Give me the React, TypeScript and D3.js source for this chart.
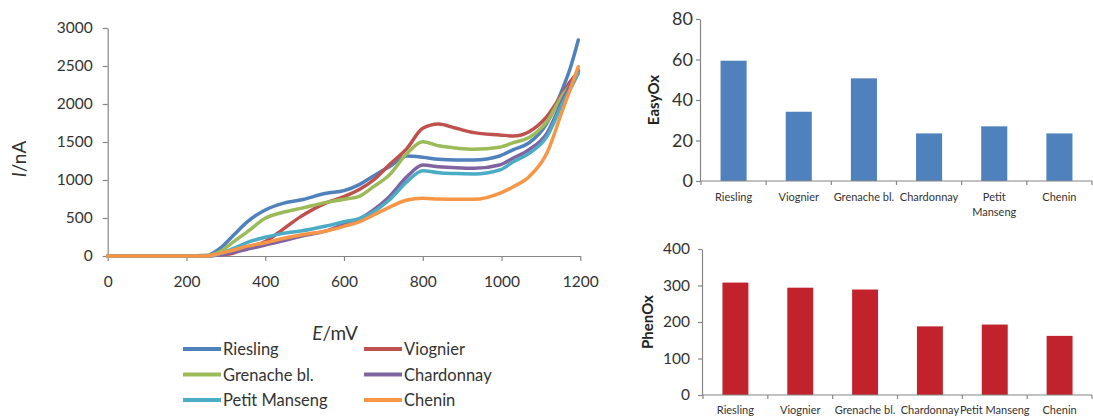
import * as d3 from "d3";
import React, { useEffect, useRef } from "react";

// potential axis (mV) and current (nA) for each wine
const potentials = [0, 100, 200, 250, 285, 320, 355, 400, 445, 490, 555, 600, 640, 675, 715, 760, 800, 840, 885, 930, 995, 1030, 1070, 1115, 1155, 1175, 1195];
const riesling = [0, 0, 0, 5, 100, 276, 452, 605, 693, 737, 825, 860, 943, 1053, 1175, 1316, 1300, 1272, 1263, 1263, 1316, 1400, 1490, 1746, 2200, 2480, 2842];
const viognier = [0, 0, 0, 0, 15, 40, 115, 189, 351, 518, 700, 781, 877, 1000, 1200, 1417, 1680, 1737, 1680, 1623, 1592, 1579, 1636, 1833, 2140, 2300, 2420];
const grenache = [0, 0, 0, 5, 60, 189, 320, 496, 575, 627, 706, 746, 789, 912, 1066, 1351, 1504, 1450, 1420, 1404, 1430, 1491, 1560, 1767, 2118, 2250, 2430];
const chardonnay = [0, 0, 0, 0, 15, 50, 90, 145, 200, 260, 330, 420, 490, 605, 781, 1044, 1197, 1175, 1160, 1153, 1197, 1290, 1400, 1614, 2053, 2250, 2440];
const petitManseng = [0, 0, 0, 0, 30, 101, 180, 246, 298, 329, 395, 450, 496, 583, 737, 978, 1123, 1096, 1085, 1079, 1131, 1241, 1350, 1570, 2009, 2200, 2404];
const chenin = [0, 0, 0, 0, 35, 79, 130, 175, 230, 276, 330, 390, 452, 539, 640, 737, 759, 750, 746, 746, 825, 912, 1044, 1351, 1921, 2200, 2491];

const wines = ["Riesling", "Viognier", "Grenache bl.", "Chardonnay", "Petit Manseng", "Chenin"];
const wineColors = ["#4F81BD", "#C0504D", "#9BBB59", "#8064A2", "#4BACC6", "#F79646"];

const easyOx = [59.4, 34.2, 50.7, 23.5, 27.0, 23.5];
const phenOx = [308, 294, 289, 188, 193, 162];

const currentTicks = [0, 500, 1000, 1500, 2000, 2500, 3000];
const potentialTicks = [0, 200, 400, 600, 800, 1000, 1200];
const easyTicks = [0, 20, 40, 60, 80];
const phenTicks = [0, 100, 200, 300, 400];

const FONT = "Lato, 'Open Sans', sans-serif";
const AXIS = "#868686";
const TEXT = "#333333";
const plain = d3.format("d");

function styleAxis(g, fontSize) {
  g.attr("font-family", FONT).attr("font-size", fontSize);
  g.select(".domain").attr("stroke", AXIS).attr("stroke-width", 1.2);
  g.selectAll(".tick line").attr("stroke", AXIS).attr("stroke-width", 1.2);
  g.selectAll(".tick text").attr("fill", TEXT);
}

function drawVoltammogram(g) {
  const x = d3.scaleLinear().domain([0, 1200]).range([107.7, 580.3]);
  const y = d3.scaleLinear().domain([0, 3000]).range([256, 28]);

  const xAxis = g
    .append("g")
    .attr("transform", `translate(0,${y(0)})`)
    .call(d3.axisBottom(x).tickValues(potentialTicks).tickFormat(plain).tickSize(5).tickSizeOuter(0).tickPadding(15));
  styleAxis(xAxis, 15.5);

  const yAxis = g
    .append("g")
    .attr("transform", `translate(${x(0)},0)`)
    .call(d3.axisLeft(y).tickValues(currentTicks).tickFormat(plain).tickSize(5).tickSizeOuter(0).tickPadding(10));
  styleAxis(yAxis, 15.5);

  const series = [riesling, viognier, grenache, chardonnay, petitManseng, chenin];
  const line = d3
    .line()
    .x((d, i) => x(potentials[i]))
    .y((d) => y(d))
    .curve(d3.curveMonotoneX);

  series.forEach((values, i) => {
    g.append("path")
      .attr("d", line(values))
      .attr("fill", "none")
      .attr("stroke", wineColors[i])
      .attr("stroke-width", 3.5)
      .attr("stroke-linejoin", "round")
      .attr("stroke-linecap", "round");
  });

  // axis titles
  const yTitle = g
    .append("text")
    .attr("transform", "translate(26,159) rotate(-90)")
    .attr("text-anchor", "middle")
    .attr("font-family", FONT)
    .attr("font-size", 19)
    .attr("fill", TEXT);
  yTitle.append("tspan").attr("font-style", "italic").text("I");
  yTitle.append("tspan").text("/nA");

  const xTitle = g
    .append("text")
    .attr("x", 335)
    .attr("y", 340)
    .attr("text-anchor", "middle")
    .attr("font-family", FONT)
    .attr("font-size", 19)
    .attr("fill", TEXT);
  xTitle.append("tspan").attr("font-style", "italic").text("E");
  xTitle.append("tspan").text("/mV");

  // legend, two columns
  const legend = g.append("g");
  wines.forEach((name, i) => {
    const lx = i % 2 === 0 ? 183 : 364;
    const ly = 349 + Math.floor(i / 2) * 25.5;
    legend
      .append("line")
      .attr("x1", lx)
      .attr("x2", lx + 38)
      .attr("y1", ly)
      .attr("y2", ly)
      .attr("stroke", wineColors[i])
      .attr("stroke-width", 4);
    legend
      .append("text")
      .attr("x", lx + 40)
      .attr("y", ly + 6)
      .attr("font-family", FONT)
      .attr("font-size", 16.5)
      .attr("fill", TEXT)
      .text(name);
  });
}

function drawBars(g, opts) {
  const { values, ticks, max, top, bottom, left, right, color, title, titleX, tickFont, tickGap, labelGap, wrap } = opts;
  const x = d3.scaleBand().domain(wines).range([left + 1, right]).paddingInner(0.6).paddingOuter(0.3);
  const y = d3.scaleLinear().domain([0, max]).range([bottom, top]);

  g.selectAll(".bar")
    .data(values)
    .join("rect")
    .attr("class", "bar")
    .attr("x", (d, i) => x(wines[i]))
    .attr("width", x.bandwidth())
    .attr("y", (d) => y(d))
    .attr("height", (d) => y(0) - y(d))
    .attr("fill", color);

  const yAxis = g
    .append("g")
    .attr("transform", `translate(${left},0)`)
    .call(d3.axisLeft(y).tickValues(ticks).tickFormat(plain).tickSize(4).tickSizeOuter(0).tickPadding(tickGap));
  styleAxis(yAxis, tickFont);

  // category axis with ticks between the bars
  const step = x.step();
  const start = x.range()[0];
  g.append("line")
    .attr("x1", left)
    .attr("x2", right)
    .attr("y1", y(0))
    .attr("y2", y(0))
    .attr("stroke", AXIS)
    .attr("stroke-width", 1.2);
  d3.range(wines.length + 1).forEach((i) => {
    const tx = Math.min(start + i * step, right);
    g.append("line")
      .attr("x1", tx)
      .attr("x2", tx)
      .attr("y1", y(0))
      .attr("y2", y(0) + 4)
      .attr("stroke", AXIS)
      .attr("stroke-width", 1.2);
  });

  wines.forEach((name, i) => {
    const cx = x(name) + x.bandwidth() / 2;
    const label = g
      .append("text")
      .attr("x", cx)
      .attr("y", y(0) + labelGap)
      .attr("text-anchor", "middle")
      .attr("font-family", FONT)
      .attr("font-size", 11)
      .attr("fill", TEXT)
      .text(name);
    const len = (label.node() as SVGTextElement).getComputedTextLength();
    if (wrap && len > step + 2) {
      label.text(null);
      name.split(" ").forEach((word, k) => {
        label.append("tspan").attr("x", cx).attr("dy", k === 0 ? 0 : 15).text(word);
      });
    }
  });

  g.append("text")
    .attr("transform", `translate(${titleX},${(top + bottom) / 2}) rotate(-90)`)
    .attr("text-anchor", "middle")
    .attr("font-family", FONT)
    .attr("font-size", 15)
    .attr("font-weight", "bold")
    .attr("fill", "#222")
    .text(title);
}

function App() {
  const svgRef = useRef(null);

  useEffect(() => {
    const svg = d3.select(svgRef.current);
    svg.selectAll("*").remove();
    drawVoltammogram(svg.append("g"));
    drawBars(svg.append("g"), {
      values: easyOx,
      ticks: easyTicks,
      max: 80,
      top: 19,
      bottom: 181,
      left: 700,
      right: 1092,
      color: "#4F81BD",
      title: "EasyOx",
      titleX: 659,
      tickFont: 18,
      tickGap: 3,
      labelGap: 20,
      wrap: true,
    });
    drawBars(svg.append("g"), {
      values: phenOx,
      ticks: phenTicks,
      max: 400,
      top: 249,
      bottom: 395,
      left: 702,
      right: 1092,
      color: "#C1222B",
      title: "PhenOx",
      titleX: 653,
      tickFont: 15.5,
      tickGap: 8,
      labelGap: 19,
      wrap: false,
    });
  }, []);

  return (
    <>
      <style>{"body{margin:0;background:#fff}"}</style>
      <svg ref={svgRef} width={1093} height={416} style={{ display: "block", background: "#fff" }} />
    </>
  );
}

export default App;
